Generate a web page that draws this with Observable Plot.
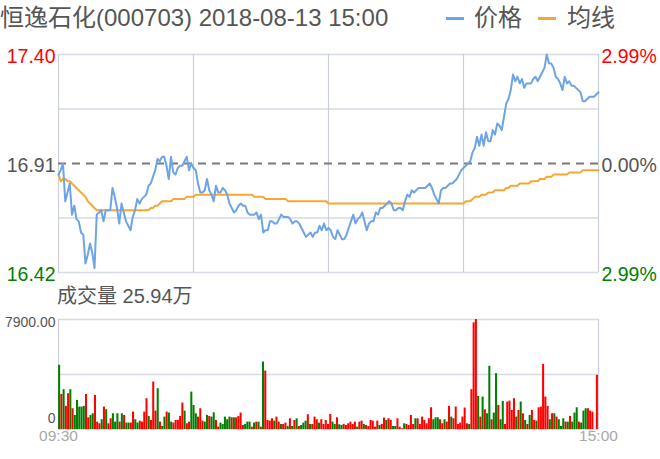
<!DOCTYPE html>
<html>
<head>
<meta charset="utf-8">
<script src="https://cdn.jsdelivr.net/npm/d3@7"></script>
<script src="https://cdn.jsdelivr.net/npm/@observablehq/plot@0.6"></script>
<style>
  html, body { margin: 0; padding: 0; background: #fff; }
  #chart { position: relative; width: 660px; height: 459px; overflow: hidden; background: #fff;
    font-family: "Liberation Sans", "Noto Sans CJK SC", sans-serif; }
  .abs { position: absolute; white-space: nowrap; }
</style>
</head>
<body>
<div id="chart"></div>
<script>
// ---------------- data ----------------
const stockTitle = "恒逸石化(000703) 2018-08-13 15:00";
const seriesNames = ["价格", "均线"];
const volumeTitle = "成交量 25.94万";
const prevClose = 16.91;
const priceTicks = [17.40, 16.91, 16.42];
const pctLabels = ["2.99%", "0.00%", "2.99%"];
const volumeMax = 7900;
const volumeTickLabels = ["7900.00", "0"];
const timeLabels = ["09:30", "15:00"];
const sessionMarks = [0, 60, 120, 180, 240];

// minute prices 09:30 .. 15:00 (241 points)
const price = [
  16.86,16.88,16.91,16.74,16.78,16.82,16.68,16.72,16.66,16.65,
  16.60,16.59,16.46,16.50,16.55,16.51,16.44,16.68,16.69,16.70,
  16.65,16.70,16.70,16.70,16.80,16.76,16.71,16.64,16.73,16.69,
  16.65,16.63,16.61,16.67,16.70,16.75,16.73,16.75,16.76,16.77,
  16.81,16.82,16.85,16.88,16.93,16.92,16.94,16.94,16.90,16.84,
  16.94,16.87,16.86,16.89,16.90,16.90,16.92,16.94,16.88,16.91,
  16.89,16.88,16.82,16.78,16.78,16.79,16.84,16.79,16.77,16.74,
  16.81,16.78,16.78,16.80,16.79,16.77,16.73,16.71,16.69,16.70,
  16.72,16.73,16.72,16.72,16.69,16.68,16.68,16.68,16.69,16.66,
  16.68,16.60,16.61,16.61,16.65,16.65,16.64,16.64,16.66,16.68,
  16.67,16.67,16.67,16.66,16.64,16.65,16.65,16.64,16.62,16.60,
  16.58,16.59,16.60,16.58,16.60,16.60,16.63,16.61,16.64,16.61,
  16.62,16.61,16.58,16.57,16.61,16.59,16.57,16.57,16.59,16.62,
  16.65,16.68,16.64,16.66,16.67,16.69,16.65,16.61,16.64,16.65,
  16.65,16.69,16.68,16.71,16.71,16.72,16.73,16.74,16.73,16.70,
  16.70,16.71,16.71,16.70,16.74,16.77,16.76,16.79,16.78,16.79,
  16.80,16.80,16.80,16.80,16.81,16.82,16.80,16.77,16.75,16.73,
  16.79,16.80,16.80,16.81,16.82,16.82,16.83,16.84,16.86,16.88,
  16.89,16.90,16.91,16.92,16.96,16.98,17.03,16.99,17.04,16.99,
  17.05,17.01,17.01,17.06,17.04,17.09,17.08,17.06,17.12,17.18,
  17.20,17.24,17.31,17.28,17.30,17.27,17.29,17.25,17.27,17.27,
  17.27,17.29,17.30,17.28,17.30,17.32,17.34,17.40,17.36,17.36,
  17.34,17.30,17.29,17.27,17.24,17.30,17.27,17.28,17.26,17.26,
  17.25,17.24,17.23,17.19,17.19,17.20,17.21,17.21,17.21,17.22,17.23
];

// average price line (241 points)
const avgPrice = [
  16.86,16.83,16.84,16.84,16.83,16.83,16.82,16.81,16.80,16.79,
  16.78,16.77,16.76,16.74,16.73,16.72,16.71,16.70,16.70,16.70,
  16.70,16.70,16.70,16.70,16.70,16.70,16.70,16.70,16.70,16.70,
  16.70,16.70,16.70,16.70,16.70,16.70,16.70,16.70,16.70,16.70,
  16.70,16.71,16.71,16.72,16.72,16.73,16.74,16.74,16.74,16.74,
  16.74,16.75,16.75,16.75,16.75,16.75,16.75,16.76,16.76,16.76,
  16.76,16.77,16.77,16.77,16.77,16.77,16.77,16.77,16.77,16.77,
  16.77,16.77,16.77,16.77,16.77,16.77,16.77,16.77,16.77,16.77,
  16.77,16.77,16.77,16.77,16.77,16.77,16.77,16.76,16.76,16.76,
  16.76,16.76,16.75,16.75,16.75,16.75,16.75,16.75,16.75,16.75,
  16.75,16.75,16.74,16.74,16.74,16.74,16.74,16.74,16.74,16.74,
  16.74,16.74,16.74,16.74,16.74,16.74,16.74,16.74,16.74,16.74,
  16.73,16.73,16.73,16.73,16.73,16.73,16.73,16.73,16.73,16.73,
  16.73,16.73,16.73,16.73,16.73,16.73,16.73,16.73,16.73,16.73,
  16.73,16.73,16.73,16.73,16.73,16.73,16.73,16.73,16.73,16.73,
  16.73,16.73,16.73,16.73,16.73,16.73,16.73,16.73,16.73,16.73,
  16.73,16.73,16.73,16.73,16.73,16.73,16.73,16.73,16.73,16.73,
  16.73,16.73,16.73,16.73,16.73,16.73,16.73,16.73,16.73,16.73,
  16.73,16.74,16.74,16.74,16.75,16.76,16.76,16.76,16.77,16.77,
  16.77,16.78,16.78,16.78,16.79,16.79,16.79,16.79,16.79,16.80,
  16.80,16.81,16.81,16.81,16.81,16.82,16.82,16.82,16.82,16.82,
  16.83,16.83,16.83,16.83,16.84,16.84,16.84,16.85,16.85,16.85,
  16.86,16.86,16.86,16.86,16.86,16.86,16.86,16.87,16.87,16.87,
  16.87,16.87,16.87,16.88,16.88,16.88,16.88,16.88,16.88,16.88,16.88
];

// minute volume (lots), 241 bars
const volume = [
  4610,2520,2860,1660,2570,2860,1490,1010,2090,1610,
  1610,1660,2520,840,1010,1130,2450,530,410,700,
  1610,1420,410,770,1130,530,1130,530,1130,1010,
  460,460,460,1250,700,460,600,530,1250,2210,
  940,650,3410,1320,2930,530,220,890,1250,1180,
  530,460,650,650,940,1900,1320,410,530,2690,
  1730,1130,890,1490,600,530,1010,940,890,1200,
  650,170,460,360,890,700,890,840,840,840,
  940,1180,290,360,530,530,170,460,530,530,
  170,4850,4200,650,600,770,600,890,530,360,
  360,460,220,770,220,650,770,220,290,460,
  600,1060,360,360,890,700,460,700,360,650,
  360,1080,530,360,840,340,290,360,290,410,
  530,360,530,170,530,600,360,290,220,650,
  600,170,600,290,360,820,650,770,650,220,
  220,770,170,50,410,360,290,1010,360,770,
  770,360,890,650,410,770,1560,700,840,840,
  700,410,700,530,1660,890,770,1610,360,460,
  890,1540,410,360,2860,7660,7900,2380,890,2330,
  1420,1130,4540,700,1180,4010,1730,700,2020,360,
  1970,2040,1370,2210,890,1370,1970,1130,650,360,
  1010,1370,650,600,1560,1610,4680,2330,1660,700,
  1130,1130,890,700,220,770,530,530,940,530,
  1180,1560,530,460,1320,1490,1490,1320,1250,0,3890
];

// bar direction: R = up (red), G = down (green)
const volumeDir = (
  "GRGRRGRGGG" + "GGRRGGRRRG" + "RGRRGGGRGR" + "GGRRGGRRRR" +
  "GRRRGRGGRG" + "GRRRRRGRRG" + "GGRRRGGRGG" + "RRGGGGGRGR" +
  "RRRGGGRGRG" + "RGRRRRGRRG" + "RRGRGRGRGG" + "GRGRRRGRRR" +
  "RRGGRGGRRR" + "RRRGRRGRRR" + "RRRGRRGRRG" + "GRRRGRRRRG" +
  "RRRRRRRGGG" + "RRGRRGRRRR" + "RRRGRRRGRG" + "RGGRGGRGGR" +
  "RRRRGRGRGR" + "GRRGRRRRRG" + "RGRGGGRGRG" + "GGRGGGRRRRR"
).split("");

// ---------------- drawing ----------------
const FONT = '"Liberation Sans", "Noto Sans CJK SC", sans-serif';
const RED = "#ff0000", GREEN = "#008000", GRAY = "#555555";
const BLUE = "#6ea4e6", ORANGE = "#f5a732";
const GRID = "#d6dae3";

const root = document.getElementById("chart");

function addDiv(html, css) {
  const d = document.createElement("div");
  d.className = "abs";
  d.innerHTML = html;
  Object.assign(d.style, css);
  root.appendChild(d);
  return d;
}

// Title + legend
addDiv(stockTitle, {left: "0px", top: "2px", fontSize: "24px", color: GRAY, lineHeight: "32px"});
addDiv("", {left: "446px", top: "17px", width: "18px", height: "3px", background: BLUE});
addDiv(seriesNames[0], {left: "474px", top: "2px", fontSize: "24px", color: GRAY, lineHeight: "32px"});
addDiv("", {left: "538px", top: "17px", width: "18px", height: "3px", background: ORANGE});
addDiv(seriesNames[1], {left: "567px", top: "2px", fontSize: "24px", color: GRAY, lineHeight: "32px"});

// ---- price panel ----
const pData = price.map((p, i) => ({i, p, a: avgPrice[i]}));
const yLo = priceTicks[2], yHi = priceTicks[0];
const hGrid = [0, 1, 2, 3, 4].map(k => yLo + (yHi - yLo) * k / 4).filter((v, k) => k !== 2);
const tickColors = [RED, GRAY, GREEN];
const tickData = priceTicks.map((v, k) => ({v, k}));

const pricePlot = Plot.plot({
  width: 660, height: 245,
  marginLeft: 58, marginRight: 62, marginTop: 14, marginBottom: 13,
  x: {domain: [0, 240], axis: null},
  y: {domain: [yLo, yHi], axis: null},
  style: {background: "transparent", fontFamily: FONT, overflow: "visible"},
  marks: [
    Plot.ruleY(hGrid, {stroke: GRID, strokeWidth: 1.5}),
    Plot.ruleX(sessionMarks, {stroke: "#c9cfdc", strokeWidth: 1.2}),
    Plot.ruleY([prevClose], {stroke: "#7a7a7a", strokeWidth: 2, strokeDasharray: "8,6"}),
    Plot.line(pData, {x: "i", y: "a", stroke: ORANGE, strokeWidth: 2}),
    Plot.line(pData, {x: "i", y: "p", stroke: BLUE, strokeWidth: 2}),
    ...tickData.map(t => Plot.text([t], {
      y: "v", frameAnchor: "left", textAnchor: "end", dx: -3, dy: 2,
      text: d => d.v.toFixed(2), fill: tickColors[t.k], fontSize: 19.5
    })),
    ...tickData.map(t => Plot.text([t], {
      y: "v", frameAnchor: "right", textAnchor: "start", dx: 3, dy: 2,
      text: d => pctLabels[d.k], fill: tickColors[t.k], fontSize: 19.5
    }))
  ]
});
const pWrap = addDiv("", {left: "0px", top: "40px"});
pWrap.appendChild(pricePlot);

// ---- volume panel ----
addDiv(volumeTitle, {left: "57px", top: "283px", fontSize: "20px", color: GRAY, lineHeight: "27px"});

const vData = volume.map((v, i) => ({i, v, d: volumeDir[i]}));
const volPlot = Plot.plot({
  width: 660, height: 174,
  marginLeft: 58, marginRight: 62, marginTop: 34, marginBottom: 30,
  x: {domain: [0, 241], axis: null},
  y: {domain: [0, volumeMax], axis: null},
  style: {background: "transparent", fontFamily: FONT, overflow: "visible"},
  marks: [
    Plot.ruleY([volumeMax, volumeMax / 2], {stroke: GRID, strokeWidth: 1.5}),
    Plot.ruleX([0, 241], {stroke: "#c9cfdc", strokeWidth: 1.2}),
    Plot.rectY(vData.filter(d => d.d === "R"), {x1: "i", x2: d => d.i + 1, y: "v", fill: RED, insetLeft: 0.1, insetRight: 0.1}),
    Plot.rectY(vData.filter(d => d.d === "G"), {x1: "i", x2: d => d.i + 1, y: "v", fill: GREEN, insetLeft: 0.1, insetRight: 0.1}),
    Plot.ruleY([0], {stroke: GRID, strokeWidth: 1}),
    Plot.text([volumeMax], {y: d => d, frameAnchor: "left", textAnchor: "end", dx: -3, dy: 3,
      text: () => volumeTickLabels[0], fill: GRAY, fontSize: 14}),
    Plot.text([0], {y: d => d, frameAnchor: "left", textAnchor: "end", dx: -3, dy: -11,
      text: () => volumeTickLabels[1], fill: GRAY, fontSize: 14}),
    Plot.text([0, 241], {x: d => d, frameAnchor: "bottom", dy: 11,
      text: (d, k) => timeLabels[k], fill: "#a8a8a8", fontSize: 15.5})
  ]
});
const vWrap = addDiv("", {left: "0px", top: "285px"});
vWrap.appendChild(volPlot);
</script>
</body>
</html>
